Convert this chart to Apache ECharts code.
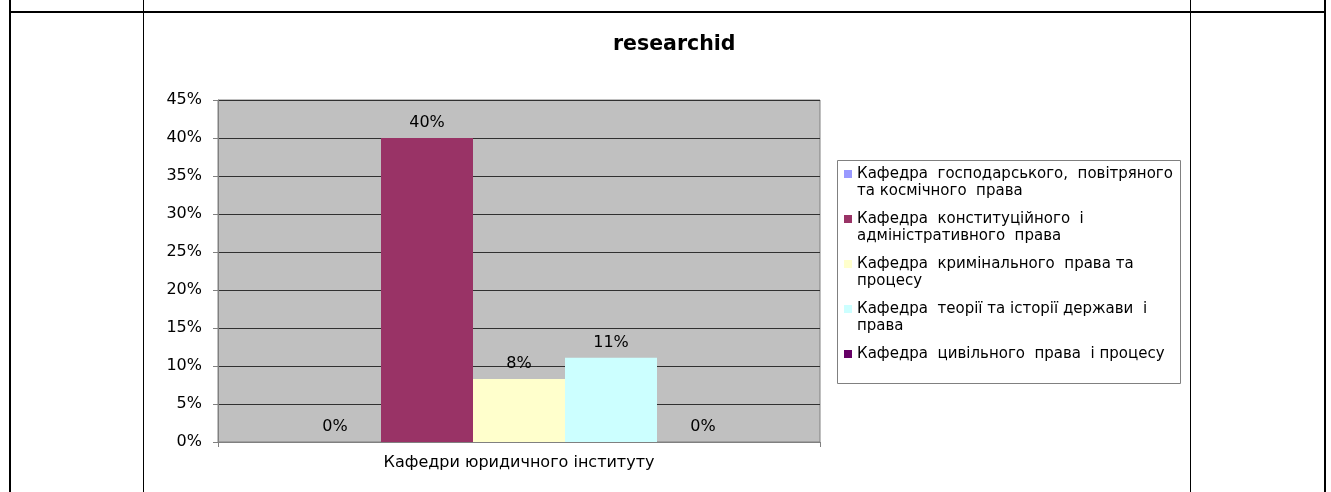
<!DOCTYPE html>
<html>
<head>
<meta charset="utf-8">
<script src="https://cdn.jsdelivr.net/npm/echarts@6/dist/echarts.min.js"></script>
<style>
html,body{margin:0;padding:0;background:#fff;}
#chart{width:1331px;height:492px;}
</style>
</head>
<body>
<div id="chart"></div>
<script>
// ---- data ----
const titleText = 'researchid';
const categories = ['Кафедри юридичного інституту'];
const seriesNames = [
  'Кафедра господарського, повітряного та космічного права',
  'Кафедра конституційного і адміністративного права',
  'Кафедра кримінального права та процесу',
  'Кафедра теорії та історії держави і права',
  'Кафедра цивільного права і процесу'
];
const legendLines = [
  ['Кафедра  господарського,  повітряного', 'та космічного  права'],
  ['Кафедра  конституційного  і', 'адміністративного  права'],
  ['Кафедра  кримінального  права та', 'процесу'],
  ['Кафедра  теорії та історії держави  і', 'права'],
  ['Кафедра  цивільного  права  і процесу', ' ']
];
const seriesValues = [0, 0.40, 0.083, 0.111, 0];
const seriesColors = ['#9999FF', '#993366', '#FFFFCC', '#CCFFFF', '#660066'];
const yTicks = {min: 0, max: 0.45, interval: 0.05};

const FONT = 'DejaVu Sans';
const pct = v => Math.round(v * 100) + '%';

const chart = echarts.init(document.getElementById('chart'), null, {renderer: 'canvas'});

const series = seriesNames.map((name, i) => ({
  name: name,
  type: 'bar',
  data: [seriesValues[i]],
  barWidth: 92,
  barGap: '0%',
  itemStyle: {color: seriesColors[i]},
  label: {
    show: true,
    position: 'top',
    distance: 7,
    formatter: p => pct(p.value),
    color: '#000',
    fontFamily: FONT,
    fontSize: 16
  }
}));

// leading blank line so the icon (centred on the text block) lines up with the first text line
const legendMap = {};
seriesNames.forEach((n, i) => legendMap[n] = ' \n' + legendLines[i].join('\n'));

const option = {
  animation: false,
  backgroundColor: '#fff',
  title: {
    text: titleText,
    left: 613,
    top: 34,
    padding: 0,
    textStyle: {fontFamily: FONT, fontWeight: 'bold', fontSize: 20.5, color: '#000'}
  },
  legend: {
    orient: 'vertical',
    left: 844,
    top: 148.5,
    padding: 0,
    itemWidth: 8,
    itemHeight: 8,
    itemGap: -6,
    icon: 'rect',
    data: seriesNames,
    formatter: n => legendMap[n],
    selectedMode: false,
    textStyle: {
      fontFamily: FONT,
      fontSize: 15,
      color: '#000',
      lineHeight: 17
    }
  },
  grid: {
    left: 218, right: 511, top: 100, bottom: 50,
    show: true,
    backgroundColor: '#C0C0C0',
    borderColor: '#808080',
    borderWidth: 1
  },
  xAxis: {
    type: 'category',
    data: categories,
    axisLine: {lineStyle: {color: '#808080'}},
    axisTick: {show: true, length: 5, lineStyle: {color: '#808080'}},
    axisLabel: {margin: 13, color: '#000', fontFamily: FONT, fontSize: 16}
  },
  yAxis: {
    type: 'value',
    min: yTicks.min,
    max: yTicks.max,
    interval: yTicks.interval,
    axisLine: {show: true, lineStyle: {color: '#808080'}},
    axisTick: {show: true, length: 5, lineStyle: {color: '#808080'}},
    axisLabel: {margin: 16, color: '#000', fontFamily: FONT, fontSize: 16, formatter: v => pct(v)},
    splitLine: {show: true, lineStyle: {color: '#303030', width: 1}}
  },
  graphic: [
    {type: 'rect', z: 0, shape: {x: 837.5, y: 160.5, width: 343, height: 223}, style: {fill: '#fff', stroke: '#808080', lineWidth: 1}},
    {type: 'line', z: 10, shape: {x1: 9, y1: 12, x2: 1326, y2: 12}, style: {stroke: '#000', lineWidth: 2}},
    {type: 'line', z: 10, shape: {x1: 10, y1: 0, x2: 10, y2: 492}, style: {stroke: '#000', lineWidth: 2}},
    {type: 'line', z: 10, shape: {x1: 1325, y1: 0, x2: 1325, y2: 492}, style: {stroke: '#000', lineWidth: 2}},
    {type: 'line', z: 10, shape: {x1: 143.5, y1: 0, x2: 143.5, y2: 492}, style: {stroke: '#000', lineWidth: 1}},
    {type: 'line', z: 10, shape: {x1: 1190.5, y1: 0, x2: 1190.5, y2: 492}, style: {stroke: '#000', lineWidth: 1}}
  ],
  series: series
};
chart.setOption(option);
</script>
</body>
</html>
